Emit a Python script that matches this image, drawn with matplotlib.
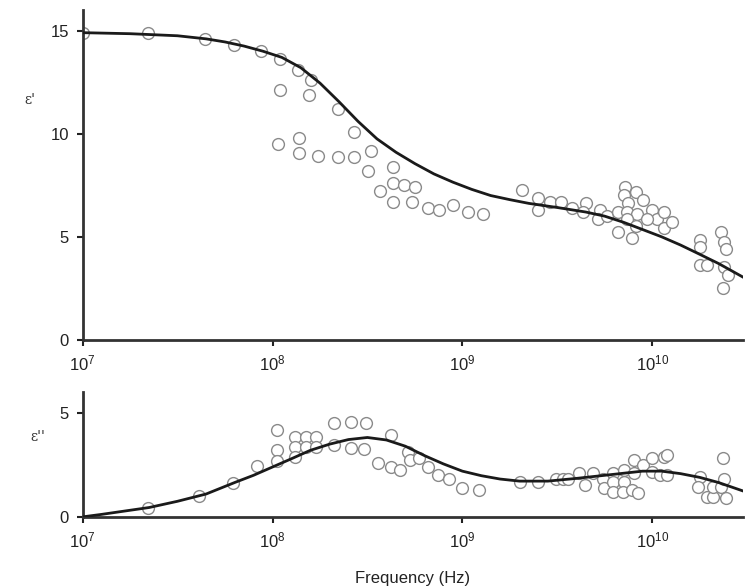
import matplotlib
matplotlib.use("Agg")
import matplotlib.pyplot as plt

plt.rcParams['font.family'] = ['Liberation Sans', 'DejaVu Sans']
plt.rcParams['mathtext.fontset'] = 'custom'
plt.rcParams['mathtext.rm'] = 'Liberation Sans'
plt.rcParams['mathtext.it'] = 'Liberation Sans'

# real part, measured points
f1 = [1e7, 2.2e7, 4.4e7, 6.3e7, 8.7e7, 1.1e8, 1.37e8, 1.6e8,
      1.1e8, 1.56e8, 2.2e8, 2.7e8, 1.07e8, 1.38e8, 1.38e8, 1.74e8, 2.2e8, 2.7e8,
      3.3e8, 3.2e8, 4.3e8, 4.3e8, 4.9e8, 5.6e8, 3.7e8, 4.3e8, 5.4e8,
      6.6e8, 7.5e8, 8.9e8, 1.07e9, 1.28e9,
      2.07e9, 2.5e9, 2.5e9, 2.9e9, 3.3e9, 3.8e9, 4.5e9, 4.3e9, 5.3e9, 5.2e9,
      5.8e9, 6.6e9, 6.6e9, 7.2e9, 7.1e9, 8.2e9, 7.5e9, 8.9e9, 7.4e9, 8.3e9,
      7.4e9, 8.2e9, 7.8e9, 1.0e10, 1.06e10, 1.15e10, 1.15e10, 1.27e10, 9.4e9,
      1.78e10, 1.78e10, 1.78e10, 1.95e10, 2.3e10, 2.4e10, 2.45e10, 2.4e10,
      2.5e10, 2.35e10]
e1 = [14.9, 14.9, 14.6, 14.3, 14.0, 13.6, 13.1, 12.6,
      12.1, 11.9, 11.2, 10.1, 9.5, 9.8, 9.05, 8.9, 8.85, 8.85,
      9.15, 8.2, 8.4, 7.6, 7.5, 7.4, 7.2, 6.7, 6.7,
      6.4, 6.3, 6.55, 6.2, 6.1,
      7.25, 6.9, 6.3, 6.7, 6.7, 6.4, 6.65, 6.2, 6.3, 5.85,
      6.0, 6.2, 5.25, 7.4, 7.05, 7.15, 6.65, 6.8, 6.2, 6.1,
      5.85, 5.5, 4.95, 6.3, 5.85, 6.2, 5.45, 5.7, 5.85,
      4.85, 4.5, 3.65, 3.65, 5.25, 4.75, 4.4, 3.55,
      3.15, 2.5]

# real part, fitted curve
fc1 = [1e7, 1.78e7, 3.16e7, 4.47e7, 5.62e7, 7.08e7, 8.91e7, 1.12e8, 1.41e8,
       1.78e8, 2.24e8, 2.82e8, 3.55e8, 4.47e8, 5.62e8, 7.08e8, 8.91e8, 1.12e9,
       1.41e9, 1.78e9, 2.24e9, 3.16e9, 4.47e9, 5.62e9, 7.08e9, 8.91e9, 1.12e10,
       1.41e10, 1.78e10, 2.24e10, 3e10]
ec1 = [14.9, 14.85, 14.75, 14.6, 14.45, 14.25, 14.0, 13.7, 13.2,
       12.45, 11.55, 10.6, 9.75, 9.1, 8.55, 8.05, 7.65, 7.3,
       7.0, 6.8, 6.62, 6.42, 6.2, 6.0, 5.7, 5.35, 5.0,
       4.6, 4.15, 3.7, 3.05]

# imaginary part, measured points
f2 = [2.2e7, 4.1e7, 6.2e7, 8.3e7, 1.05e8, 1.05e8, 1.05e8, 1.32e8, 1.32e8, 1.32e8,
      1.5e8, 1.5e8, 1.7e8, 1.7e8, 2.1e8, 2.1e8, 2.6e8, 2.6e8, 3.1e8, 3.05e8,
      4.2e8, 3.6e8, 4.2e8, 4.7e8, 5.2e8, 5.3e8, 5.9e8, 6.6e8, 7.4e8, 8.5e8,
      1.0e9, 1.23e9, 2.0e9, 2.5e9, 3.1e9, 3.4e9, 3.6e9, 4.1e9, 4.4e9, 4.9e9,
      5.5e9, 5.6e9, 6.2e9, 6.2e9, 6.2e9, 7.1e9, 7.1e9, 7.0e9, 8.0e9, 8.0e9,
      7.8e9, 8.4e9, 8.9e9, 1.0e10, 1.0e10, 1.15e10, 1.2e10, 1.1e10, 1.2e10,
      1.78e10, 1.75e10, 1.95e10, 2.1e10, 2.1e10, 2.3e10, 2.35e10, 2.4e10, 2.45e10]
e2 = [0.45, 1.0, 1.65, 2.45, 4.2, 3.2, 2.7, 3.85, 3.35, 2.9,
      3.85, 3.35, 3.85, 3.35, 4.5, 3.45, 4.55, 3.3, 4.5, 3.25,
      3.95, 2.6, 2.4, 2.25, 3.1, 2.75, 2.85, 2.4, 2.0, 1.8,
      1.4, 1.3, 1.7, 1.7, 1.8, 1.8, 1.8, 2.1, 1.55, 2.1,
      1.8, 1.4, 2.1, 1.7, 1.2, 2.25, 1.7, 1.2, 2.75, 2.1,
      1.3, 1.15, 2.5, 2.85, 2.15, 2.9, 3.0, 2.0, 2.0,
      1.9, 1.45, 0.95, 0.95, 1.45, 1.45, 2.85, 1.8, 0.9]

# imaginary part, fitted curve
fc2 = [1e7, 1.26e7, 1.58e7, 2.24e7, 3.16e7, 4.47e7, 6.31e7, 7.94e7, 1e8, 1.26e8,
       1.58e8, 2e8, 2.51e8, 3.16e8, 3.98e8, 5.01e8, 6.31e8, 7.94e8, 1e9, 1.26e9,
       1.58e9, 2e9, 2.82e9, 3.98e9, 6.31e9, 8.91e9, 1.12e10, 1.41e10, 1.78e10,
       2.24e10, 3e10]
ec2 = [0.0, 0.12, 0.25, 0.45, 0.75, 1.1, 1.65, 2.0, 2.4, 2.8,
       3.2, 3.5, 3.72, 3.82, 3.7, 3.4, 2.95, 2.55, 2.2, 1.98,
       1.82, 1.72, 1.72, 1.85, 2.05, 2.2, 2.2, 2.08, 1.9,
       1.65, 1.25]

xticks = [1e7, 1e8, 1e9, 1e10]
xlabels = ['10$^{7}$', '10$^{8}$', '10$^{9}$', '10$^{10}$']

fig = plt.figure(figsize=(7.45, 5.88), dpi=100)
ax1 = fig.add_axes([0.111, 0.422, 0.886, 0.561])
ax2 = fig.add_axes([0.111, 0.121, 0.886, 0.212])

mk = dict(ls='none', marker='o', ms=8.5, mfc='white', mec='#8a8a8a', mew=1.0)

for ax, f, e, fc, ec, ylim, yt in [
        (ax1, f1, e1, fc1, ec1, 16, [0, 5, 10, 15]),
        (ax2, f2, e2, fc2, ec2, 6, [0, 5])]:
    ax.plot(fc, ec, color='#1a1a1a', lw=2.0, zorder=3, solid_joinstyle='round')
    ax.plot(f, e, zorder=2, **mk)
    ax.set_xscale('log')
    ax.set_xlim(1e7, 3e10)
    ax.set_ylim(0, ylim)
    ax.set_yticks(yt)
    ax.set_xticks(xticks)
    ax.set_xticklabels(xlabels)
    ax.minorticks_off()
    ax.spines['top'].set_visible(False)
    ax.spines['right'].set_visible(False)
    for s in ['left', 'bottom']:
        ax.spines[s].set_linewidth(2.0)
        ax.spines[s].set_color('#333333')
    ax.tick_params(direction='out', length=4, width=1.5, labelsize=12,
                   colors='#222222', pad=6)

fig.text(30 / 745, 1 - 100 / 588, "ε'", family='DejaVu Serif', fontsize=10,
         ha='center', va='center', color='#333333')
fig.text(38 / 745, 1 - 437 / 588, "ε''", family='DejaVu Serif', fontsize=10,
         ha='center', va='center', color='#333333')
fig.text(413 / 745, 1 - 578 / 588, 'Frequency (Hz)', fontsize=12,
         ha='center', va='center', color='#222222')

fig.savefig('out.png', dpi=100)
